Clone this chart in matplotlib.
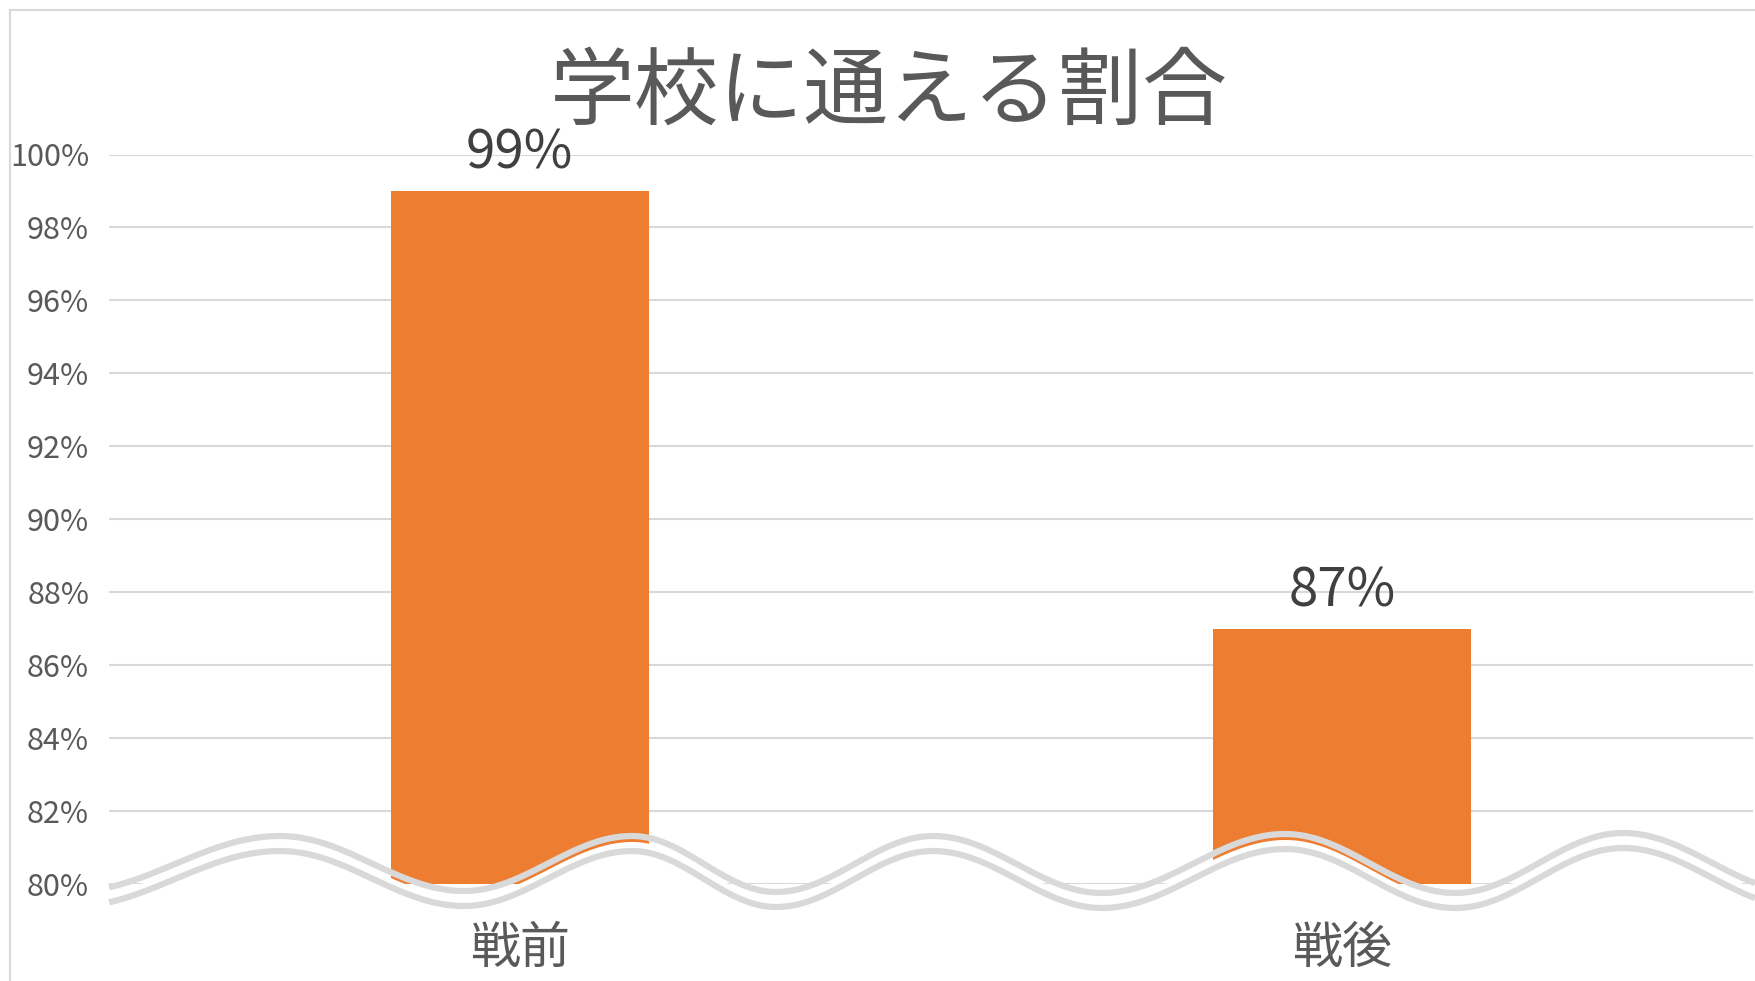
import numpy as np
import matplotlib
matplotlib.use("Agg")
from matplotlib import pyplot as plt
from matplotlib.ticker import FuncFormatter

plt.rcParams['font.family'] = ['Noto Sans CJK JP', 'DejaVu Sans']

# data
title = '学校に通える割合'
categories = ['戦前', '戦後']
values = [99, 87]
y_ticks = [80, 82, 84, 86, 88, 90, 92, 94, 96, 98, 100]

W, H = 1755, 981
fig = plt.figure(figsize=(W / 100, H / 100), dpi=100)
fig.patch.set_facecolor('white')

# main axes (pixel box: left 108.6, right 1753, top 154.5, bottom 884)
ax = fig.add_axes([108.6 / W, 1 - 884 / H, (1753 - 108.6) / W, (884 - 154.5) / H])
ax.bar(range(len(values)), values, width=0.314, color='#ed7d31', zorder=2)
ax.set_xlim(-0.5, len(values) - 0.5)
ax.set_ylim(y_ticks[0], y_ticks[-1])
ax.set_yticks(y_ticks)
ax.yaxis.set_major_formatter(FuncFormatter(lambda v, _: f'{v:.0f}%'))
ax.grid(axis='y', color='#d9d9d9', lw=1.5, zorder=0)
ax.set_axisbelow(True)
for s in ax.spines.values():
    s.set_visible(False)
ax.tick_params(axis='y', length=0, pad=14, labelsize=22, labelcolor='#595959')
ax.set_xticks(range(len(categories)))
ax.set_xticklabels(categories)
ax.tick_params(axis='x', length=0, pad=28, labelsize=36, labelcolor='#595959')

for i, v in enumerate(values):
    ax.annotate(f'{v}%', (i, v), xytext=(0, 27), textcoords='offset points',
                ha='center', va='center', fontsize=38, color='#404040')

# overlay in figure pixels for title, border and the axis-break wave
ov = fig.add_axes([0, 0, 1, 1], zorder=5)
ov.set_xlim(0, W)
ov.set_ylim(H, 0)
ov.axis('off')
ov.patch.set_alpha(0)

ov.plot([10, 10], [10, H], color='#d9d9d9', lw=1.5)
ov.plot([10, W], [10, 10], color='#d9d9d9', lw=1.5)
ov.text(889, 93, title, ha='center', va='center', fontsize=61, color='#595959')

# break symbol: smooth wave through hand-placed extrema
ext_x = [70, 280, 464, 632, 776, 933, 1102, 1285, 1455, 1623, 1800]
ext_y = [892, 836, 891, 836, 892, 836, 893, 834, 893, 833, 892]
wx, wy = [], []
for x0, x1, y0, y1 in zip(ext_x[:-1], ext_x[1:], ext_y[:-1], ext_y[1:]):
    xs = np.linspace(x0, x1, 60)
    t = (xs - x0) / (x1 - x0)
    wx.append(xs)
    wy.append(y0 + (y1 - y0) * (1 - np.cos(np.pi * t)) / 2)
wx = np.concatenate(wx)
wy = np.concatenate(wy)
keep = (wx >= 108) & (wx <= W)
wx, wy = wx[keep], wy[keep]
gap = 15
ov.fill_between(wx, wy + 5.5, np.maximum(wy + gap + 3, 887), color='white', lw=0)
ov.plot(wx, wy, color='#d9d9d9', lw=4.5, solid_capstyle='butt')
ov.plot(wx, wy + gap, color='#d9d9d9', lw=4.5, solid_capstyle='butt')

fig.savefig('out.png', dpi=100)
